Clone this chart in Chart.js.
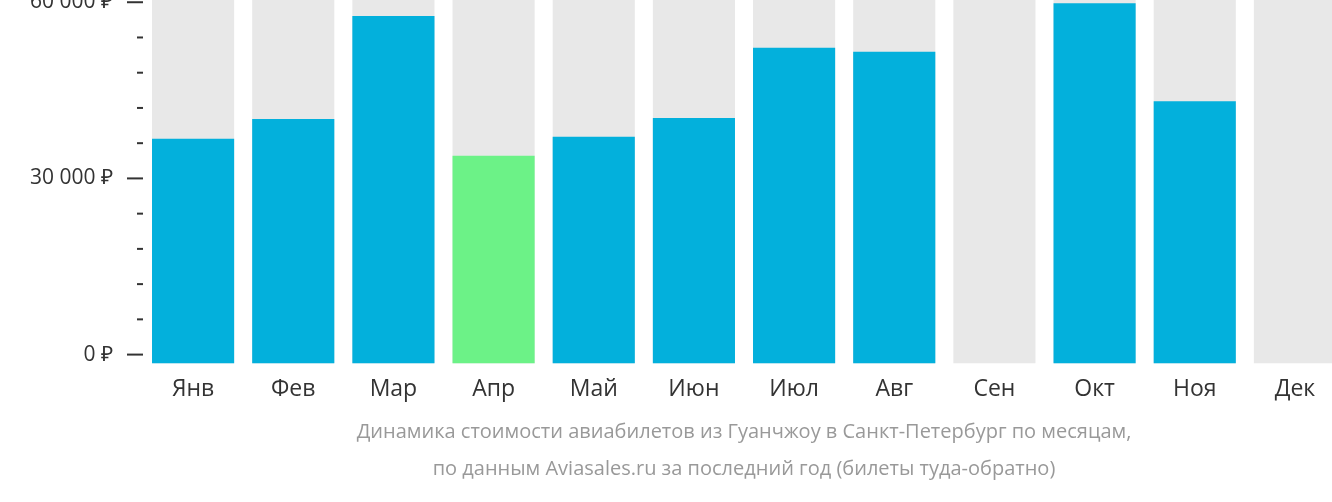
<!DOCTYPE html>
<html lang="ru">
<head>
  <meta charset="UTF-8">
  <title>Динамика стоимости авиабилетов</title>
  <script src="https://cdn.jsdelivr.net/npm/chart.js"></script>
  <style>
   body { margin: 0; overflow: hidden; background: #fff; }
   #wrap { width: 1345px; height: 542px; margin-top: -40px; }
  </style>
</head>
<body>
<div id="wrap"><canvas id="myChart"></canvas></div>
<script>
  const months = ['Янв','Фев','Мар','Апр','Май','Июн','Июл','Авг','Сен','Окт','Ноя','Дек'];
  const prices = [36740, 40110, 57640, 33880, 37080, 40280, 52250, 51570, null, 59830, 43150, null];
  const cheapest = 3; // Апр
  const yMin = -1500, yMax = 61300;
  const tickValues = [0, 6000, 12000, 18000, 24000, 30000, 36000, 42000, 48000, 54000, 60000];
  const titleLines = ['Динамика стоимости авиабилетов из Гуанчжоу в Санкт-Петербург по месяцам,',
                      'по данным Aviasales.ru за последний год (билеты туда-обратно)'];

  const fmt = v => String(v).replace(/\B(?=(\d{3})+(?!\d))/g, ' ') + ' ₽';

  // tick dashes on the y axis + caption centred under the plot area
  const extras = {
    id: 'extras',
    afterDraw(chart) {
      const s = chart.scales.y, ctx = chart.ctx, a = chart.chartArea;
      ctx.save();
      ctx.strokeStyle = '#333'; ctx.lineWidth = 2;
      tickValues.forEach(v => {
        const y = s.getPixelForValue(v);
        const major = v % 30000 === 0;
        ctx.beginPath();
        ctx.moveTo(major ? 127 : 137, y); ctx.lineTo(143, y);
        ctx.stroke();
      });
      ctx.fillStyle = '#999'; ctx.font = '20px "Open Sans"';
      ctx.textAlign = 'center'; ctx.textBaseline = 'middle';
      const cx = (a.left + a.right) / 2;
      titleLines.forEach((t, i) => ctx.fillText(t, cx, a.bottom + 69 + i * 37));
      ctx.restore();
    }
  };

  new Chart(document.getElementById('myChart'), {
    type: 'bar',
    data: {
      labels: months,
      datasets: [
        { data: prices.map(p => p === null ? null : [yMin, p]),
          backgroundColor: prices.map((p, i) => i === cheapest ? '#6cf287' : '#03b0dc'),
          barPercentage: 1, categoryPercentage: 0.82, grouped: false, order: 0 },
        { data: months.map(() => [yMin, yMax]), backgroundColor: '#e8e8e8',
          barPercentage: 1, categoryPercentage: 0.82, grouped: false, order: 1 }
      ]
    },
    plugins: [extras],
    options: {
      responsive: true, maintainAspectRatio: false, animation: false,
      layout: { padding: { left: 0, right: 0, top: 0, bottom: 95 } },
      scales: {
        x: { grid: { display: false }, border: { display: false },
             ticks: { color: '#333', font: { family: 'Open Sans', size: 23 }, padding: 4 } },
        y: { min: yMin, max: yMax, grid: { display: false }, border: { display: false },
             afterBuildTicks: s => { s.ticks = tickValues.map(v => ({ value: v })); },
             afterFit: s => { s.width = 143; },
             ticks: { color: '#333', font: { family: 'Open Sans', size: 21 }, padding: 22,
                      callback: v => v % 30000 === 0 ? fmt(v) : '' } }
      },
      plugins: { legend: { display: false }, tooltip: { enabled: false } }
    }
  });
</script>
</body>
</html>
